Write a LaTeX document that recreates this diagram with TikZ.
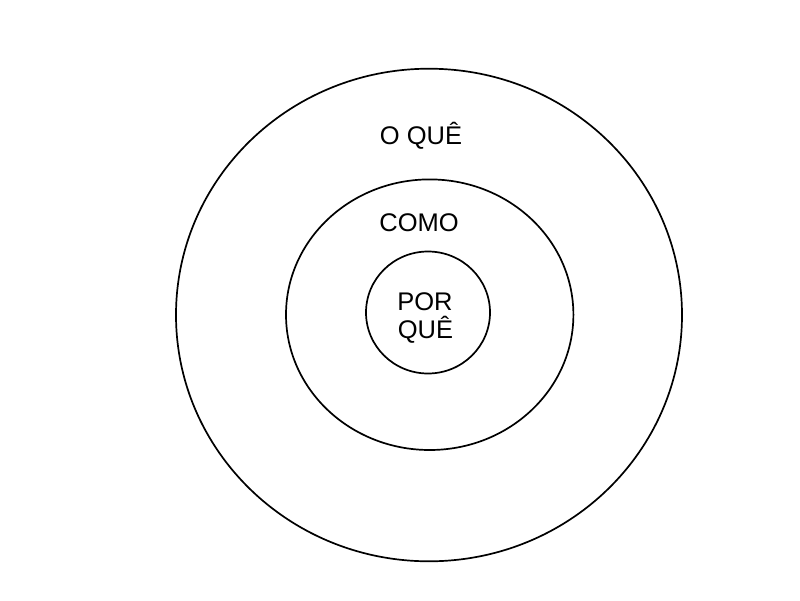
\documentclass[tikz,border=0pt]{standalone}
\usepackage{fontspec}
\setmainfont{Liberation Sans}
\begin{document}
\begin{tikzpicture}[x=1pt,y=-1pt,
  ring/.style={draw=black,line width=1.7pt},
  lbl/.style={anchor=base,inner sep=0pt,font=\fontsize{25.5}{28}\selectfont}]
\useasboundingbox[fill=white] (0,0) rectangle (800,600);
\coordinate (c1) at (429,315);
\coordinate (c2) at (429.7,314.7);
\coordinate (c3) at (428,312.5);
\draw[ring] (c1) ellipse [x radius=253, y radius=246.3];
\draw[ring] (c2) ellipse [x radius=143.7, y radius=135.3];
\draw[ring] (c3) ellipse [x radius=62, y radius=61];
\node[lbl] (oque) at (421,144) {O QUÊ};
\node[lbl] (como) at (419,231.5) {COMO};
\node[lbl] (por) at (425,310) {POR};
\node[lbl] (que) at (425.5,338.3) {QUÊ};
\end{tikzpicture}
\end{document}
